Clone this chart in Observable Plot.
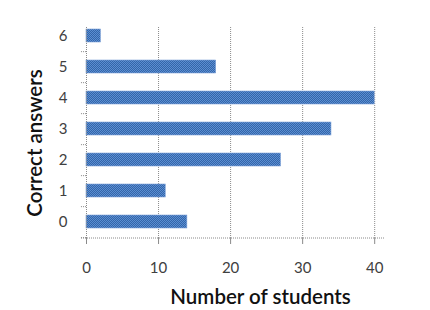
<!DOCTYPE html>
<html>
<head>
<meta charset="utf-8">
<script src="https://cdn.jsdelivr.net/npm/d3@7"></script>
<script src="https://cdn.jsdelivr.net/npm/@observablehq/plot@0.6"></script>
<style>
  body { margin: 0; background: #fff; }
  #chart svg { display: block; }
</style>
</head>
<body>
<div id="chart"></div>
<script>
const answers = [6, 5, 4, 3, 2, 1, 0];
const students = [2, 18, 40, 34, 27, 11, 14];
const xTicks = [0, 10, 20, 30, 40];
const xTitle = "Number of students";
const yTitle = "Correct answers";

const data = answers.map((a, i) => ({answers: a, students: students[i]}));
const font = "Lato, 'Open Sans', sans-serif";
const gridColor = "#8a8a8a";

const chart = Plot.plot({
  width: 430,
  height: 310,
  marginLeft: 86,
  marginRight: 45,
  marginTop: 19,
  marginBottom: 72,
  style: {fontFamily: font, background: "#fff"},
  x: {domain: [0, 41.5], axis: null},
  y: {domain: answers, paddingInner: 0.58, paddingOuter: 0.29, axis: null},
  marks: [
    Plot.ruleX(xTicks.slice(1), {stroke: gridColor, strokeDasharray: "1,1", insetTop: 8}),
    Plot.barX(data, {x: "students", y: "answers", fill: "url(#chk)", stroke: "#7fa2d8", strokeWidth: 0.6}),
    Plot.ruleX([0], {stroke: gridColor, strokeDasharray: "1,1", insetTop: 8, insetBottom: -6}),
    Plot.ruleY(answers, {y: d => d, x1: -0.7, x2: 0, dy: 15.65, stroke: gridColor, strokeDasharray: "1,1"}),
    Plot.axisX({ticks: xTicks, tickSize: 6, tickPadding: 18, fontSize: 15, stroke: gridColor, color: "#404040", label: null, tickFormat: d => String(d)}),
    Plot.axisY({tickSize: 0, tickPadding: 19, fontSize: 15, color: "#404040", label: null}),
    Plot.text([xTitle], {frameAnchor: "bottom", dx: 24.5, dy: 59, lineAnchor: "middle", fontSize: 20.5, fontWeight: 600, fill: "#111"}),
    Plot.text([yTitle], {frameAnchor: "left", textAnchor: "middle", rotate: -90, dx: -51, dy: 14, lineAnchor: "middle", fontSize: 20.5, fontWeight: 600, fill: "#111"})
  ]
});

// checker pattern for the bars
const ns = "http://www.w3.org/2000/svg";
const defs = document.createElementNS(ns, "defs");
defs.innerHTML = `<pattern id="chk" width="2" height="2" patternUnits="userSpaceOnUse">
  <rect width="2" height="2" fill="#3465a8"/>
  <rect width="1" height="1" fill="#5a8ed2"/>
  <rect x="1" y="1" width="1" height="1" fill="#5a8ed2"/>
</pattern>`;
chart.insertBefore(defs, chart.firstChild);

// bottom axis line through the x scale
const xs = chart.scale("x");
const line = document.createElementNS(ns, "line");
const yb = 310 - 72;
line.setAttribute("x1", xs.apply(0) - 5);
line.setAttribute("x2", xs.apply(41.5));
line.setAttribute("y1", yb);
line.setAttribute("y2", yb);
line.setAttribute("stroke", gridColor);
line.setAttribute("stroke-dasharray", "1,1");
chart.appendChild(line);

document.getElementById("chart").appendChild(chart);
</script>
</body>
</html>
